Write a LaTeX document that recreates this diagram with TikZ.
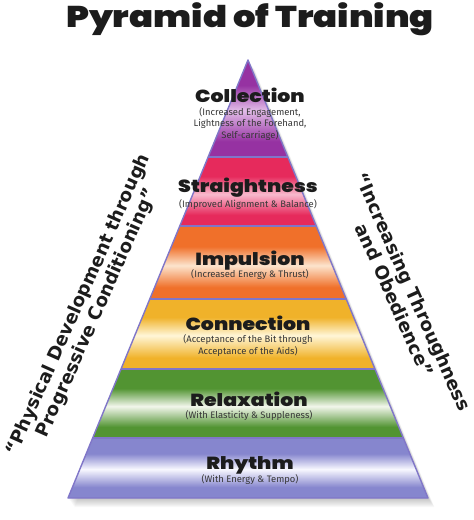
\documentclass[tikz,border=0pt]{standalone}
\usepackage{fontspec}
\usetikzlibrary{calc}
\newfontfamily\heavyfont{Poppins Black}[FakeStretch=1.17]
\newfontfamily\titlefont{Poppins Black}[FakeStretch=1.18]
\newfontfamily\subfont{Fira Sans}
\newfontfamily\sidefont{DejaVu Sans}
\definecolor{edgec}{RGB}{128,118,200}
\definecolor{inkc}{RGB}{28,28,28}
\definecolor{subc}{RGB}{55,55,55}
\definecolor{colB}{RGB}{150,50,162}
\definecolor{colL}{RGB}{225,188,232}
\definecolor{strB}{RGB}{230,42,92}
\definecolor{strL}{RGB}{248,185,205}
\definecolor{impB}{RGB}{240,112,42}
\definecolor{impL}{RGB}{252,228,205}
\definecolor{conB}{RGB}{240,178,42}
\definecolor{conL}{RGB}{255,246,215}
\definecolor{relB}{RGB}{82,148,50}
\definecolor{relL}{RGB}{242,246,236}
\definecolor{rhyB}{RGB}{134,134,206}
\definecolor{rhyL}{RGB}{248,248,255}
\pgfdeclareverticalshading{shCol}{100bp}{color(0bp)=(colB); color(33bp)=(colB); color(49bp)=(colL); color(62bp)=(colB); color(100bp)=(colB)}
\pgfdeclareverticalshading{shStr}{100bp}{color(0bp)=(strB); color(33bp)=(strB); color(48bp)=(strL); color(61bp)=(strB); color(100bp)=(strB)}
\pgfdeclareverticalshading{shImp}{100bp}{color(0bp)=(impB); color(33bp)=(impB); color(48bp)=(impL); color(61bp)=(impB); color(100bp)=(impB)}
\pgfdeclareverticalshading{shCon}{100bp}{color(0bp)=(conB); color(33bp)=(conB); color(49bp)=(conL); color(62bp)=(conB); color(100bp)=(conB)}
\pgfdeclareverticalshading{shRel}{100bp}{color(0bp)=(relB); color(33bp)=(relB); color(48bp)=(relL); color(61bp)=(relB); color(100bp)=(relB)}
\pgfdeclareverticalshading{shRhy}{100bp}{color(0bp)=(rhyB); color(34bp)=(rhyB); color(49bp)=(rhyL); color(62bp)=(rhyB); color(100bp)=(rhyB)}
\tikzset{
  bandline/.style={draw=edgec,line width=1.4pt,line join=round},
  heading/.style={font=\heavyfont\fontsize{17.5}{20}\selectfont,text=inkc,inner sep=0pt,anchor=base},
  subline/.style={font=\subfont\fontsize{9.4}{11}\selectfont,text=subc,inner sep=0pt,anchor=base},
  sidetext/.style={font=\sidefont\bfseries\fontsize{18.2}{20.5}\selectfont,text=inkc,align=center,inner sep=0pt}
}
\begin{document}
\begin{tikzpicture}[x=1pt,y=-1pt]
\useasboundingbox (0,0) rectangle (474,520);
\coordinate (A) at (248,60);
\coordinate (BL) at (68,498);
\coordinate (BR) at (428,498);
\coordinate (L1) at ($(A)!0.2215!(BL)$); \coordinate (R1) at ($(A)!0.2215!(BR)$);
\coordinate (L2) at ($(A)!0.379!(BL)$);  \coordinate (R2) at ($(A)!0.379!(BR)$);
\coordinate (L3) at ($(A)!0.5457!(BL)$); \coordinate (R3) at ($(A)!0.5457!(BR)$);
\coordinate (L4) at ($(A)!0.7055!(BL)$); \coordinate (R4) at ($(A)!0.7055!(BR)$);
\coordinate (L5) at ($(A)!0.863!(BL)$);  \coordinate (R5) at ($(A)!0.863!(BR)$);
% soft shadow
\foreach \d in {1,...,9}{
  \fill[black,opacity=0.028] ([shift={(\d*0.7,\d*1.0)}]A) -- ([shift={(\d*0.7,\d*1.0)}]BR) -- ([shift={(\d*0.7,\d*1.0)}]BL) -- cycle;
}
% bands
\shade[shading=shCol] (A) -- (R1) -- (L1) -- cycle;
\shade[shading=shStr] (L1) -- (R1) -- (R2) -- (L2) -- cycle;
\shade[shading=shImp] (L2) -- (R2) -- (R3) -- (L3) -- cycle;
\shade[shading=shCon] (L3) -- (R3) -- (R4) -- (L4) -- cycle;
\shade[shading=shRel] (L4) -- (R4) -- (R5) -- (L5) -- cycle;
\shade[shading=shRhy] (L5) -- (R5) -- (BR) -- (BL) -- cycle;
\draw[bandline] (L1) -- (R1) (L2) -- (R2) (L3) -- (R3) (L4) -- (R4) (L5) -- (R5);
\draw[bandline] (A) -- (BR) -- (BL) -- cycle;
% title
\node[font=\titlefont\fontsize{30}{34}\selectfont,text=inkc,inner sep=0pt,anchor=base] (title) at (250,27) {Pyramid of Training};
% headings and sublines
\node[heading] (collH) at (250,102) {Collection};
\node[subline] (collS1) at (250,115) {(Increased Engagement,};
\node[subline] (collS2) at (250,126.5) {Lightness of the Forehand,};
\node[subline] (collS3) at (250,138) {Self-carriage)};
\node[heading] (straH) at (248,192) {Straightness};
\node[subline] (straS) at (248,207) {(Improved Alignment \& Balance)};
\node[heading] (impH) at (250,265) {Impulsion};
\node[subline] (impS) at (250,277) {(Increased Energy \& Thrust)};
\node[heading] (connH) at (248,330) {Connection};
\node[subline] (connS1) at (248,342) {(Acceptance of the Bit through};
\node[subline] (connS2) at (248,354) {Acceptance of the Aids)};
\node[heading] (relH) at (249,406) {Relaxation};
\node[subline] (relS) at (249,418) {(With Elasticity \& Suppleness)};
\node[heading] (rhyH) at (250,469) {Rhythm};
\node[subline] (rhyS) at (250,482) {(With Energy \& Tempo)};
% side texts
\node[sidetext,rotate=66] (leftT) at (88,309) {“Physical Development through\\Progressive Conditioning”};
\node[sidetext,rotate=-66] (rightT) at (404,296) {“Increasing Throughness\\and Obedience”};
\end{tikzpicture}
\end{document}
